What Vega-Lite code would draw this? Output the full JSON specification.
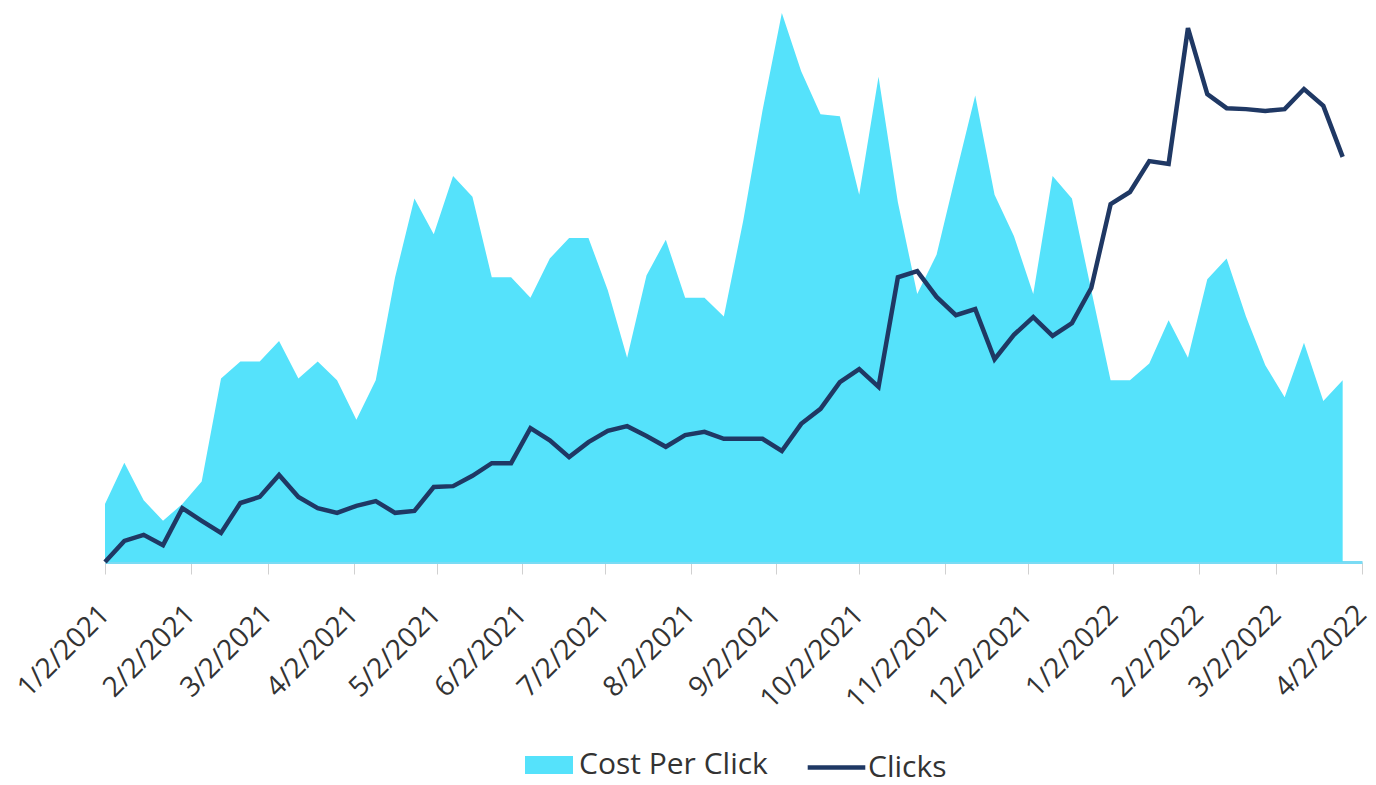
{
  "$schema": "https://vega.github.io/schema/vega-lite/v6.json",
  "width": 1257,
  "height": 562,
  "autosize": {"type": "none"},
  "padding": {"left": 105, "top": 0, "right": 14, "bottom": 223},
  "background": "white",
  "config": {
    "view": {"stroke": null},
    "font": "Open Sans",
    "legend": {"orient": "none", "direction": "horizontal", "title": null, "labelFontSize": 30, "labelColor": "#333333", "labelFont": "Open Sans", "labelLimit": 0}
  },
  "data": {
    "values": [
      {"date": "2021-01-02", "cpc": 0.31, "clicks": 0},
      {"date": "2021-01-09", "cpc": 0.53, "clicks": 45},
      {"date": "2021-01-16", "cpc": 0.33, "clicks": 58},
      {"date": "2021-01-23", "cpc": 0.22, "clicks": 36},
      {"date": "2021-01-30", "cpc": 0.31, "clicks": 115},
      {"date": "2021-02-06", "cpc": 0.43, "clicks": 88},
      {"date": "2021-02-13", "cpc": 0.98, "clicks": 62},
      {"date": "2021-02-20", "cpc": 1.07, "clicks": 126},
      {"date": "2021-02-27", "cpc": 1.07, "clicks": 139},
      {"date": "2021-03-06", "cpc": 1.18, "clicks": 186},
      {"date": "2021-03-13", "cpc": 0.98, "clicks": 139},
      {"date": "2021-03-20", "cpc": 1.07, "clicks": 115},
      {"date": "2021-03-27", "cpc": 0.97, "clicks": 105},
      {"date": "2021-04-03", "cpc": 0.76, "clicks": 120},
      {"date": "2021-04-10", "cpc": 0.97, "clicks": 130},
      {"date": "2021-04-17", "cpc": 1.52, "clicks": 105},
      {"date": "2021-04-24", "cpc": 1.94, "clicks": 109},
      {"date": "2021-05-01", "cpc": 1.75, "clicks": 160},
      {"date": "2021-05-08", "cpc": 2.06, "clicks": 162},
      {"date": "2021-05-15", "cpc": 1.95, "clicks": 184},
      {"date": "2021-05-22", "cpc": 1.52, "clicks": 211},
      {"date": "2021-05-29", "cpc": 1.52, "clicks": 211},
      {"date": "2021-06-05", "cpc": 1.41, "clicks": 286},
      {"date": "2021-06-12", "cpc": 1.62, "clicks": 260},
      {"date": "2021-06-19", "cpc": 1.73, "clicks": 224},
      {"date": "2021-06-26", "cpc": 1.73, "clicks": 256},
      {"date": "2021-07-03", "cpc": 1.45, "clicks": 280},
      {"date": "2021-07-10", "cpc": 1.09, "clicks": 290},
      {"date": "2021-07-17", "cpc": 1.53, "clicks": 269},
      {"date": "2021-07-24", "cpc": 1.72, "clicks": 246},
      {"date": "2021-07-31", "cpc": 1.41, "clicks": 271},
      {"date": "2021-08-07", "cpc": 1.41, "clicks": 278},
      {"date": "2021-08-14", "cpc": 1.31, "clicks": 263},
      {"date": "2021-08-21", "cpc": 1.82, "clicks": 263},
      {"date": "2021-08-28", "cpc": 2.41, "clicks": 263},
      {"date": "2021-09-04", "cpc": 2.93, "clicks": 237},
      {"date": "2021-09-11", "cpc": 2.62, "clicks": 295},
      {"date": "2021-09-18", "cpc": 2.39, "clicks": 327},
      {"date": "2021-09-25", "cpc": 2.38, "clicks": 384},
      {"date": "2021-10-02", "cpc": 1.96, "clicks": 412},
      {"date": "2021-10-09", "cpc": 2.59, "clicks": 374},
      {"date": "2021-10-16", "cpc": 1.92, "clicks": 608},
      {"date": "2021-10-23", "cpc": 1.43, "clicks": 621},
      {"date": "2021-10-30", "cpc": 1.64, "clicks": 566},
      {"date": "2021-11-06", "cpc": 2.07, "clicks": 527},
      {"date": "2021-11-13", "cpc": 2.49, "clicks": 540},
      {"date": "2021-11-20", "cpc": 1.96, "clicks": 433},
      {"date": "2021-11-27", "cpc": 1.74, "clicks": 485},
      {"date": "2021-12-04", "cpc": 1.43, "clicks": 523},
      {"date": "2021-12-11", "cpc": 2.06, "clicks": 483},
      {"date": "2021-12-18", "cpc": 1.94, "clicks": 510},
      {"date": "2021-12-25", "cpc": 1.45, "clicks": 585},
      {"date": "2022-01-01", "cpc": 0.97, "clicks": 764},
      {"date": "2022-01-08", "cpc": 0.97, "clicks": 790},
      {"date": "2022-01-15", "cpc": 1.06, "clicks": 856},
      {"date": "2022-01-22", "cpc": 1.29, "clicks": 850},
      {"date": "2022-01-29", "cpc": 1.09, "clicks": 1140},
      {"date": "2022-02-05", "cpc": 1.51, "clicks": 999},
      {"date": "2022-02-12", "cpc": 1.62, "clicks": 969},
      {"date": "2022-02-19", "cpc": 1.31, "clicks": 967},
      {"date": "2022-02-26", "cpc": 1.05, "clicks": 963},
      {"date": "2022-03-05", "cpc": 0.88, "clicks": 967},
      {"date": "2022-03-12", "cpc": 1.17, "clicks": 1010},
      {"date": "2022-03-19", "cpc": 0.86, "clicks": 974},
      {"date": "2022-03-26", "cpc": 0.97, "clicks": 865}
    ]
  },
  "encoding": {
    "x": {
      "field": "date",
      "type": "temporal",
      "scale": {
        "type": "utc",
        "domain": [{"year": 2021, "month": 1, "date": 2, "utc": true}, {"year": 2022, "month": 4, "date": 2, "utc": true}],
        "nice": false
      },
      "axis": {
        "title": null,
        "labelExpr": "utcFormat(datum.value, '%-m/%-d/%Y')",
        "values": [
          {"year": 2021, "month": 1, "date": 2, "utc": true},
          {"year": 2021, "month": 2, "date": 2, "utc": true},
          {"year": 2021, "month": 3, "date": 2, "utc": true},
          {"year": 2021, "month": 4, "date": 2, "utc": true},
          {"year": 2021, "month": 5, "date": 2, "utc": true},
          {"year": 2021, "month": 6, "date": 2, "utc": true},
          {"year": 2021, "month": 7, "date": 2, "utc": true},
          {"year": 2021, "month": 8, "date": 2, "utc": true},
          {"year": 2021, "month": 9, "date": 2, "utc": true},
          {"year": 2021, "month": 10, "date": 2, "utc": true},
          {"year": 2021, "month": 11, "date": 2, "utc": true},
          {"year": 2021, "month": 12, "date": 2, "utc": true},
          {"year": 2022, "month": 1, "date": 2, "utc": true},
          {"year": 2022, "month": 2, "date": 2, "utc": true},
          {"year": 2022, "month": 3, "date": 2, "utc": true},
          {"year": 2022, "month": 4, "date": 2, "utc": true}
        ],
        "labelAngle": -45,
        "labelAlign": "right",
        "labelBaseline": "middle",
        "labelFontSize": 28,
        "labelFont": "Open Sans",
        "labelColor": "#333333",
        "labelPadding": 36,
        "labelOverlap": false,
        "labelFlush": false,
        "labelBound": false,
        "labelLimit": 0,
        "grid": false,
        "domainColor": "#7ADBF4",
        "domainWidth": 3,
        "tickColor": "#D0D0D0",
        "tickSize": 12,
        "tickWidth": 1
      }
    }
  },
  "layer": [
    {
      "mark": {"type": "area", "interpolate": "linear"},
      "encoding": {
        "y": {"field": "cpc", "type": "quantitative", "scale": {"domain": [0, 3], "nice": false}, "axis": null},
        "fill": {
          "datum": "Cost Per Click",
          "type": "nominal",
          "scale": {"domain": ["Cost Per Click"], "range": ["#55E2FB"]},
          "legend": {"symbolType": "M-1,-0.375H1V0.375H-1Z", "symbolSize": 2304, "symbolStrokeWidth": 0, "labelOffset": 6, "legendX": 420, "legendY": 741}
        }
      }
    },
    {
      "mark": {"type": "line", "strokeWidth": 4.5, "strokeJoin": "miter", "interpolate": "linear"},
      "encoding": {
        "y": {"field": "clicks", "type": "quantitative", "scale": {"domain": [0, 1200], "nice": false}, "axis": null},
        "stroke": {
          "datum": "Clicks",
          "type": "nominal",
          "scale": {"domain": ["Clicks"], "range": ["#1F3864"]},
          "legend": {"symbolType": "M-1.2,0H1.2", "symbolSize": 2304, "symbolStrokeWidth": 4.5, "labelOffset": 5, "legendX": 705, "legendY": 741}
        }
      }
    }
  ],
  "resolve": {"scale": {"y": "independent"}}
}
